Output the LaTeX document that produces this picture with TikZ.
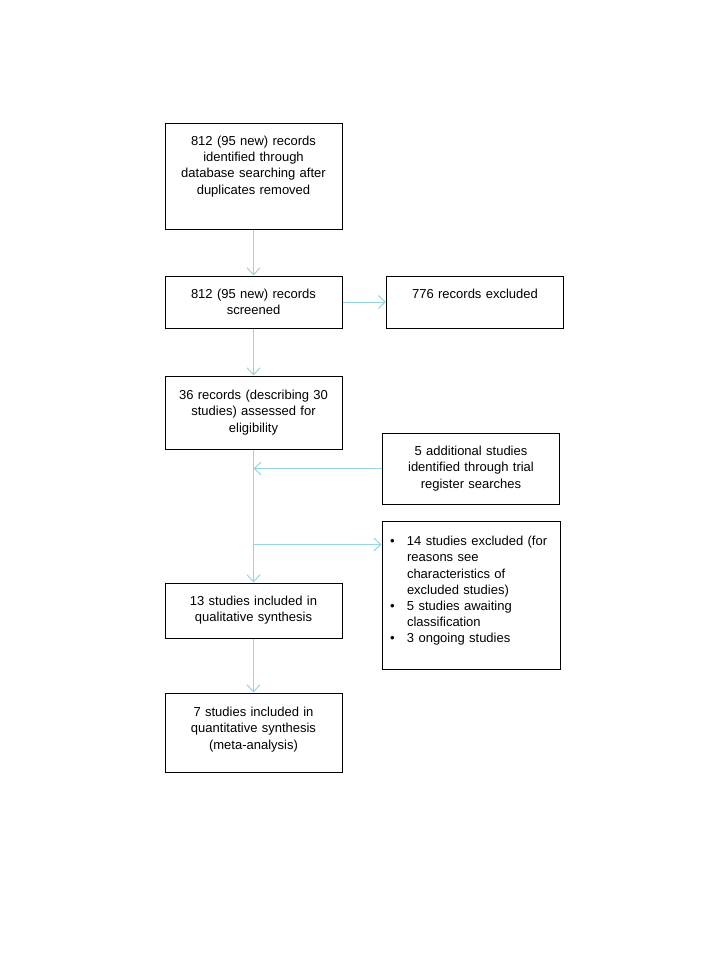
\documentclass[tikz,border=0pt]{standalone}
\usepackage{fontspec}
\setmainfont{Liberation Sans}
\usetikzlibrary{
    arrows.meta,
    calc,
}
\definecolor{flowline}{RGB}{150,212,222}
\newcommand{\bulitem}[1]{\noindent\hangindent=17pt\hangafter=1\makebox[17pt][l]{\textbullet}#1\par}
\newcommand{\liftgap}[1]{\endgraf\vspace*{#1}}

\begin{document}
\begin{tikzpicture}[
    box/.style = {draw, line width=1pt, align=center, inner xsep=3pt, text width=171pt,
                  font=\fontsize{13pt}{16.2pt}\selectfont},
    flow/.style = {draw=flowline, line width=1pt, -{Straight Barb[length=7pt,width=13pt]}},
    lift/.style = {execute at end node={\liftgap{#1}}}]
    \useasboundingbox (0,0) rectangle (720pt,-960pt);
    \node[box, minimum height=105pt, lift=20pt] (search) at (253.5pt,-176.5pt)
        {812 (95 new) records\\identified through\\database searching after\\duplicates removed};
    \node[box, minimum height=52pt] (screen) [node distance=125.5pt, below of=search]
        {812 (95 new) records\\screened};
    \node[box, minimum height=52pt, lift=16pt] (exclude) [node distance=221.5pt, right of=screen]
        {776 records excluded};
    \node[box, minimum height=73pt] (eligible) [node distance=110.5pt, below of=screen]
        {36 records (describing 30\\studies) assessed for\\eligibility};
    \node[box, minimum height=71pt] (register) at (471pt,-468.5pt)
        {5 additional studies\\identified through trial\\register searches};
    \node[box, minimum height=55pt] (quali) [node distance=198pt, below of=eligible]
        {13 studies included in\\qualitative synthesis};
    \node[box, minimum height=79pt, lift=6pt] (quanti) [node distance=122pt, below of=quali]
        {7 studies included in\\quantitative synthesis\\(meta-analysis)};
    \node[box, minimum height=148pt, align=left, inner xsep=8pt, text width=162pt, lift=8pt] (reasons) at (471pt,-595pt)
        {\bulitem{14 studies excluded (for\newline reasons see\newline characteristics of\newline excluded studies)}%
         \bulitem{5 studies awaiting\newline classification}%
         \bulitem{3 ongoing studies}};
    \coordinate (merge) at (eligible.south |- register.west);
    \coordinate (split) at ($(eligible.south)+(0,-95pt)$);
    \coordinate (splitend) at (split -| reasons.west);
    \draw[flow] (search) -- (screen);
    \draw[flow] (screen) -- (exclude);
    \draw[flow] (screen) -- (eligible);
    \draw[flow] (eligible) -- (quali);
    \draw[flow] (register) -- (merge);
    \draw[flow] (split) -- (splitend);
    \draw[flow] (quali) -- (quanti);
\end{tikzpicture}
\end{document}
